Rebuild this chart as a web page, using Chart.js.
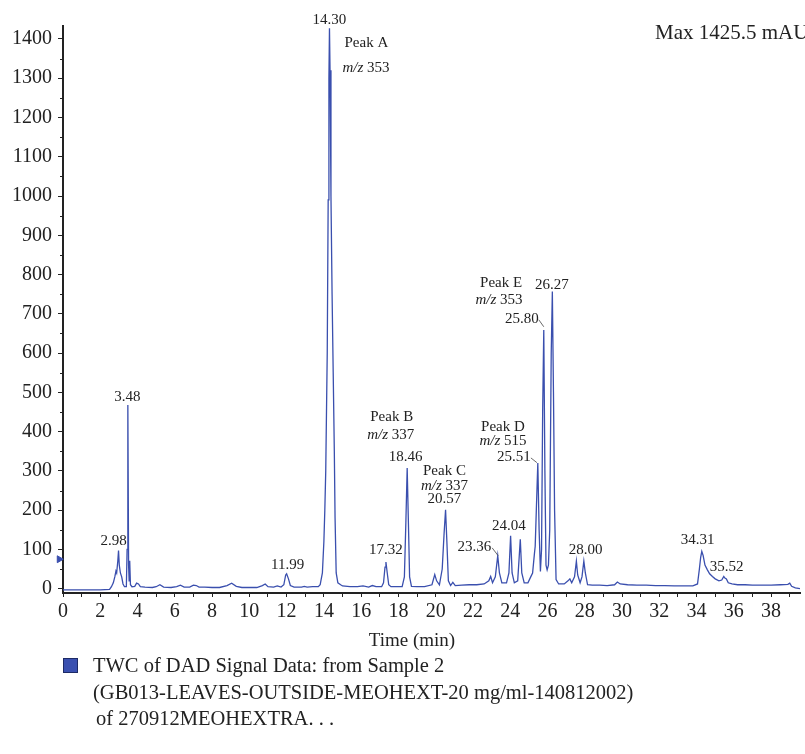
<!DOCTYPE html>
<html>
<head>
<meta charset="utf-8">
<title>TWC of DAD Signal</title>
<script src="https://cdn.jsdelivr.net/npm/chart.js@4.4.1/dist/chart.umd.min.js"></script>
<style>
  body { margin: 0; background: #fff; color: #222; font-family: 'Liberation Serif', 'DejaVu Serif', serif; }
  #wrap { position: relative; width: 805px; height: 754px; overflow: hidden; }
  #legend { position: absolute; left: 63px; top: 652px; font-size: 20.5px; line-height: 26.5px; }
  #legend .swatch { position: absolute; left: 0; top: 6px; width: 13px; height: 13px; background: #3a50b0; border: 1px solid #1d2a66; }
  #legend .lines { margin-left: 30px; white-space: nowrap; }
  #legend .lines div:last-child { padding-left: 3px; }
</style>
</head>
<body>
<div id="wrap">
  <canvas id="chart" width="805" height="660"></canvas>
  <div id="legend"><span class="swatch"></span><div class="lines" id="legend-lines"></div></div>
</div>
<script>
// retention time (min) and DAD signal (mAU)
const times = [
  0, 1.0, 2.0, 2.5, 2.6, 2.7, 2.78, 2.84, 2.88, 2.94, 2.98, 3.02, 3.08, 3.15, 3.22, 3.3, 3.4,
  3.44, 3.48, 3.52, 3.55, 3.58, 3.62, 3.7, 3.85, 3.95, 4.05, 4.15, 4.4, 4.8, 5.0, 5.2, 5.4,
  5.8, 6.1, 6.3, 6.5, 6.8, 7.0, 7.15, 7.3, 7.6, 8.0, 8.4, 8.8, 9.05, 9.3, 9.6, 10.0, 10.4,
  10.7, 10.85, 11.0, 11.3, 11.5, 11.7, 11.85, 11.95, 12.0, 12.1, 12.2, 12.4, 12.8, 12.95,
  13.1, 13.4, 13.7, 13.8, 13.92, 14.0, 14.05, 14.1, 14.18, 14.23, 14.27, 14.30, 14.33, 14.38,
  14.44, 14.5, 14.56, 14.6, 14.66, 14.75, 14.9, 15.0, 15.4, 15.8, 16.1, 16.4, 16.6, 16.8,
  17.1, 17.2, 17.28, 17.33, 17.4, 17.48, 17.6, 17.9, 18.2, 18.32, 18.4, 18.47, 18.53, 18.6,
  18.7, 19.0, 19.4, 19.8, 19.95, 20.05, 20.2, 20.35, 20.45, 20.53, 20.6, 20.68, 20.8, 20.92,
  21.05, 21.4, 21.8, 22.2, 22.6, 22.85, 22.95, 23.05, 23.2, 23.33, 23.42, 23.55, 23.8, 23.93,
  24.02, 24.1, 24.22, 24.4, 24.48, 24.54, 24.62, 24.75, 24.95, 25.1, 25.2, 25.3, 25.34, 25.4,
  25.48, 25.55, 25.62, 25.68, 25.74, 25.8, 25.86, 25.92, 25.98, 26.05, 26.12, 26.2, 26.26,
  26.32, 26.38, 26.46, 26.6, 26.9, 27.1, 27.2, 27.3, 27.45, 27.55, 27.62, 27.75, 27.85, 27.95,
  28.03, 28.15, 28.4, 28.8, 29.2, 29.6, 29.75, 29.9, 30.3, 30.8, 31.3, 31.8, 32.3, 32.8, 33.3,
  33.8, 34.05, 34.15, 34.22, 34.28, 34.35, 34.45, 34.58, 34.7, 34.85, 35.0, 35.2, 35.35, 35.46,
  35.52, 35.6, 35.7, 35.9, 36.2, 36.6, 37.0, 37.5, 38.0, 38.5, 38.9, 39.0, 39.1, 39.3, 39.55
];
const signal = [
  -3, -3, -3, -2, 5, 15, 30, 45, 40, 70, 97, 60, 40, 30, 12, 5, 5,
  100, 468, 60, 20, 71, 10, 5, 6, 14, 12, 5, 4, 3, 5, 10, 4,
  3, 5, 9, 4, 4, 9, 8, 4, 4, 3, 3, 8, 14, 6, 3, 3, 3,
  8, 12, 5, 4, 7, 4, 10, 35, 38, 25, 8, 4, 4, 6,
  4, 5, 5, 10, 40, 120, 200, 300, 600, 990, 1300, 1427, 1320, 1000,
  750, 550, 350, 180, 40, 15, 10, 7, 5, 5, 7, 4, 8, 5,
  5, 15, 55, 68, 40, 10, 5, 5, 5, 30, 170, 307, 180, 30,
  6, 5, 5, 10, 36, 20, 10, 50, 140, 201, 120, 20, 8, 16,
  8, 9, 10, 10, 12, 20, 31, 15, 30, 84, 40, 15, 15, 40,
  135, 40, 15, 20, 80, 126, 40, 15, 15, 30, 40, 90, 108, 200,
  320, 150, 44, 100, 450, 659, 300, 60, 48, 60, 150, 600, 757,
  500, 200, 23, 12, 12, 20, 25, 15, 30, 70, 35, 15, 30, 70,
  40, 10, 9, 9, 8, 10, 17, 12, 10, 9, 9, 8, 8, 7, 7,
  7, 12, 50, 80, 95, 85, 60, 48, 38, 31, 25, 20, 22, 31,
  27, 25, 15, 12, 10, 10, 9, 9, 9, 10, 11, 14, 6, 2, 0
];

// injection marker on the signal axis
const markerTime = [-0.2];
const markerSignal = [75];

// peak labels: text and where it sits (time, mAU)
const labelText = [
  '14.30', 'Peak A', 'm/z 353', '3.48', '2.98', '11.99', '17.32',
  'Peak B', 'm/z 337', '18.46', 'Peak C', 'm/z 337', '20.57',
  '23.36', '24.04', 'Peak D', 'm/z 515', '25.51', '25.80',
  'Peak E', 'm/z 353', '26.27', '28.00', '34.31', '35.52'
];
const labelTime = [
  14.29, 16.28, 16.26, 3.46, 2.72, 12.05, 17.32,
  17.64, 17.59, 18.39, 20.47, 20.47, 20.47,
  22.07, 23.93, 23.61, 23.61, 24.2, 24.63,
  23.51, 23.4, 26.23, 28.04, 34.06, 35.61
];
const labelSignal = [
  1448, 1390, 1326, 489, 122, 61, 99,
  438, 392, 336, 300, 262, 227,
  107, 160, 412, 377, 336, 687,
  779, 736, 774, 99, 125, 56
];

// short leader lines from a label to its peak
const leaderFrom = [[23.03, 104], [25.11, 333], [25.53, 685]];
const leaderTo = [[23.35, 84], [25.43, 321], [25.8, 667]];

const yMinorTicks = [50, 150, 250, 350, 450, 550, 650, 750, 850, 950, 1050, 1150, 1250, 1350];

const legendLines = [
  'TWC of DAD Signal Data: from Sample 2',
  '(GB013-LEAVES-OUTSIDE-MEOHEXT-20 mg/ml-140812002)',
  'of 270912MEOHEXTRA. . .'
];
const maxNote = 'Max 1425.5 mAU';
const xTitle = 'Time (min)';

const serif = "'Liberation Serif', 'DejaVu Serif', serif";
const ink = '#222';
const trace = '#3a4fae';

function drawLabel(ctx, text, cx, cy) {
  ctx.textBaseline = 'middle';
  if (text.startsWith('m/z')) {
    const rest = text.slice(3);
    ctx.font = `italic 15px ${serif}`;
    const w1 = ctx.measureText('m/z').width;
    ctx.font = `15px ${serif}`;
    const w2 = ctx.measureText(rest).width;
    const x = cx - (w1 + w2) / 2;
    ctx.textAlign = 'left';
    ctx.font = `italic 15px ${serif}`;
    ctx.fillText('m/z', x, cy);
    ctx.font = `15px ${serif}`;
    ctx.fillText(rest, x + w1, cy);
  } else {
    ctx.font = `15px ${serif}`;
    ctx.textAlign = 'center';
    ctx.fillText(text, cx, cy);
  }
}

const peakLabels = {
  id: 'peakLabels',
  afterDatasetsDraw(chart) {
    const { ctx, chartArea, scales: { x, y } } = chart;
    ctx.save();
    ctx.fillStyle = ink;
    labelText.forEach((text, i) => {
      drawLabel(ctx, text, x.getPixelForValue(labelTime[i]), y.getPixelForValue(labelSignal[i]));
    });
    ctx.strokeStyle = '#444';
    ctx.lineWidth = 0.8;
    leaderFrom.forEach((from, i) => {
      ctx.beginPath();
      ctx.moveTo(x.getPixelForValue(from[0]), y.getPixelForValue(from[1]));
      ctx.lineTo(x.getPixelForValue(leaderTo[i][0]), y.getPixelForValue(leaderTo[i][1]));
      ctx.stroke();
    });
    ctx.font = `21px ${serif}`;
    ctx.textAlign = 'left';
    ctx.textBaseline = 'middle';
    ctx.fillText(maxNote, chartArea.left + 592, chartArea.top + 7);
    // axis title, centred a little left of the plot middle as in the source
    ctx.font = `19px ${serif}`;
    ctx.textAlign = 'center';
    ctx.fillText(xTitle, chartArea.left + 349, x.bottom - 19);
    ctx.restore();
  },
  afterDraw(chart) {
    const { ctx, scales: { y } } = chart;
    ctx.save();
    ctx.strokeStyle = ink;
    ctx.lineWidth = 1;
    yMinorTicks.forEach((v) => {
      const py = Math.round(y.getPixelForValue(v)) + 0.5;
      ctx.beginPath();
      ctx.moveTo(y.right - 3, py);
      ctx.lineTo(y.right, py);
      ctx.stroke();
    });
    ctx.restore();
  }
};

new Chart(document.getElementById('chart'), {
  type: 'scatter',
  data: {
    datasets: [
      {
        data: times.map((t, i) => ({ x: t, y: signal[i] })),
        showLine: true,
        borderColor: trace,
        borderWidth: 1.3,
        pointRadius: 0,
        tension: 0,
      },
      {
        data: markerTime.map((t, i) => ({ x: t, y: markerSignal[i] })),
        pointStyle: 'triangle',
        rotation: 90,
        pointRadius: 4,
        backgroundColor: trace,
        borderColor: trace,
        clip: false,
      },
    ],
  },
  options: {
    responsive: false,
    animation: false,
    layout: { padding: { top: 26, right: 0, left: 0, bottom: 0 } },
    plugins: { legend: { display: false }, tooltip: { enabled: false } },
    scales: {
      x: {
        type: 'linear',
        min: 0,
        max: 39.55,
        afterFit: (scale) => { scale.height = 67; },
        border: { color: ink, width: 2 },
        grid: { drawOnChartArea: false, tickLength: 4, tickColor: ink },
        ticks: {
          stepSize: 1,
          autoSkip: false,
          includeBounds: false,
          maxRotation: 0,
          padding: 3,
          color: ink,
          font: { family: serif, size: 20 },
          callback: (v) => (v % 2 === 0 ? v : ''),
        },
      },
      y: {
        type: 'linear',
        min: -11,
        max: 1433,
        afterFit: (scale) => { scale.width = 63; },
        border: { color: ink, width: 2 },
        grid: {
          drawOnChartArea: false,
          tickLength: 5,
          tickColor: (ctx) => (ctx.tick && ctx.tick.value % 100 === 0 ? ink : 'rgba(0,0,0,0)'),
        },
        ticks: {
          stepSize: 50,
          autoSkip: false,
          includeBounds: false,
          padding: 6,
          color: ink,
          font: { family: serif, size: 20 },
          callback: (v) => (v % 100 === 0 ? v : ''),
        },
      },
    },
  },
  plugins: [peakLabels],
});

document.getElementById('legend-lines').innerHTML = legendLines.map((l) => `<div>${l}</div>`).join('');
</script>
</body>
</html>
